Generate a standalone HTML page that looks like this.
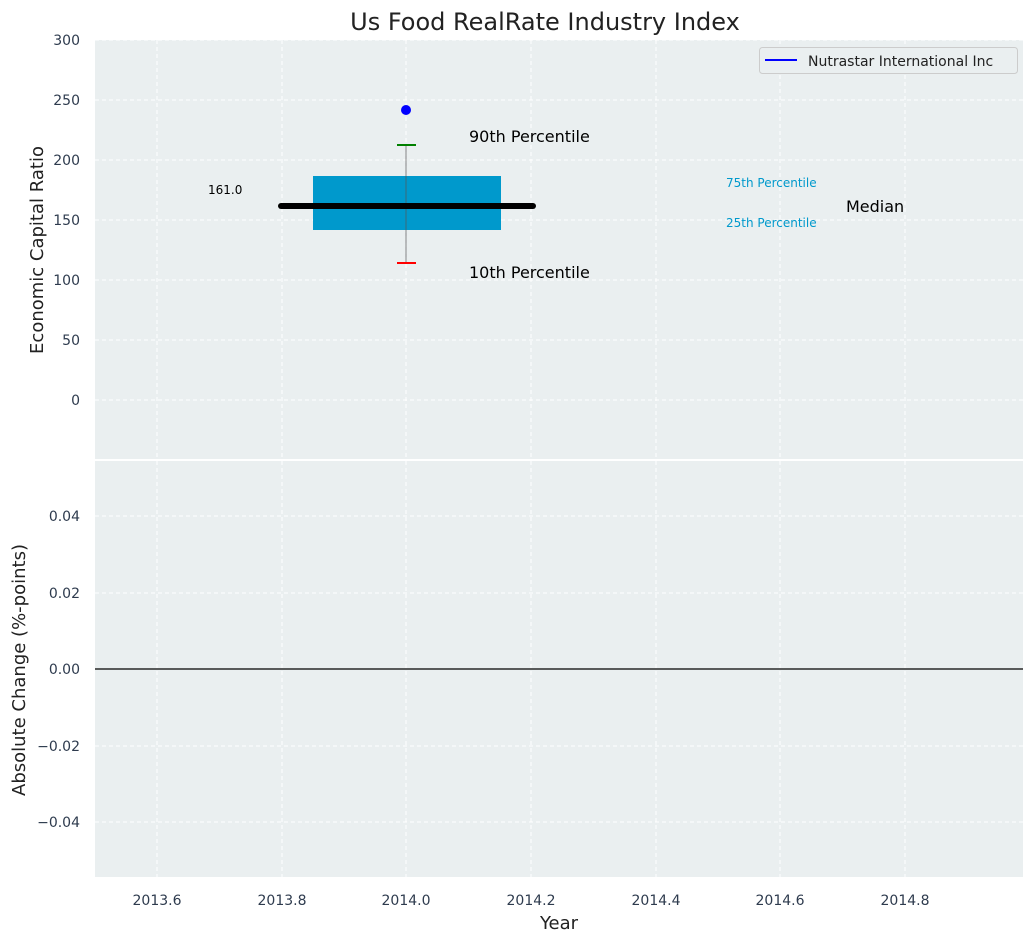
<!DOCTYPE html>
<html><head><meta charset="utf-8"><style>
html,body{margin:0;padding:0;background:#fff;}
svg{display:block;font-family:"DejaVu Sans","Liberation Sans",sans-serif;}
</style></head><body>
<svg width="1034" height="942" viewBox="0 0 1034 942" xmlns="http://www.w3.org/2000/svg">
<rect x="0" y="0" width="1034" height="942" fill="#fff"/>
<!-- top axes -->
<rect x="95" y="40" width="928" height="419" fill="#eaeff0"/>
<g stroke="#fff" stroke-width="1" stroke-dasharray="4,3">
<line x1="157" y1="40" x2="157" y2="459"/><line x1="282" y1="40" x2="282" y2="459"/><line x1="406" y1="40" x2="406" y2="459"/><line x1="531" y1="40" x2="531" y2="459"/><line x1="656" y1="40" x2="656" y2="459"/><line x1="780" y1="40" x2="780" y2="459"/><line x1="905" y1="40" x2="905" y2="459"/>
<line x1="95" y1="40" x2="1023" y2="40"/><line x1="95" y1="100" x2="1023" y2="100"/><line x1="95" y1="160" x2="1023" y2="160"/><line x1="95" y1="220" x2="1023" y2="220"/><line x1="95" y1="280" x2="1023" y2="280"/><line x1="95" y1="340" x2="1023" y2="340"/><line x1="95" y1="400" x2="1023" y2="400"/>
</g>
<g font-size="14" fill="#2e3b4e" text-anchor="end">
<text x="80" y="45">300</text><text x="80" y="105">250</text><text x="80" y="165">200</text><text x="80" y="225">150</text><text x="80" y="285">100</text><text x="80" y="345">50</text><text x="80" y="405">0</text>
</g>
<text transform="translate(43,250) rotate(-90)" font-size="18" fill="#222" text-anchor="middle">Economic Capital Ratio</text>
<text x="545" y="30" font-size="24" fill="#222" text-anchor="middle">Us Food RealRate Industry Index</text>
<rect x="313" y="176" width="188" height="54" fill="#0099cc"/>
<line x1="406" y1="145" x2="406" y2="263" stroke="#555" stroke-width="1" opacity="0.7"/>
<line x1="397" y1="145" x2="416" y2="145" stroke="green" stroke-width="2"/>
<line x1="397" y1="263" x2="416" y2="263" stroke="red" stroke-width="2"/>
<line x1="281" y1="206" x2="533" y2="206" stroke="#000" stroke-width="6" stroke-linecap="round"/>
<circle cx="406" cy="110" r="5" fill="blue"/>
<text x="208" y="194" font-size="12" fill="#000">161.0</text>
<text x="469" y="142" font-size="16" fill="#000">90th Percentile</text>
<text x="469" y="278" font-size="16" fill="#000">10th Percentile</text>
<text x="726" y="187" font-size="12" fill="#0099cc">75th Percentile</text>
<text x="726" y="227" font-size="12" fill="#0099cc">25th Percentile</text>
<text x="846" y="212" font-size="16" fill="#000">Median</text>
<rect x="759.5" y="47.5" width="258" height="26" rx="3" fill="#eaeff0" stroke="#ccc"/>
<line x1="765" y1="60" x2="797" y2="60" stroke="blue" stroke-width="2"/>
<text x="808" y="66" font-size="14" fill="#222">Nutrastar International Inc</text>
<!-- bottom axes -->
<rect x="95" y="461" width="928" height="416" fill="#eaeff0"/>
<g stroke="#fff" stroke-width="1" stroke-dasharray="4,3">
<line x1="157" y1="461" x2="157" y2="877"/><line x1="282" y1="461" x2="282" y2="877"/><line x1="406" y1="461" x2="406" y2="877"/><line x1="531" y1="461" x2="531" y2="877"/><line x1="656" y1="461" x2="656" y2="877"/><line x1="780" y1="461" x2="780" y2="877"/><line x1="905" y1="461" x2="905" y2="877"/>
<line x1="95" y1="516" x2="1023" y2="516"/><line x1="95" y1="593" x2="1023" y2="593"/><line x1="95" y1="746" x2="1023" y2="746"/><line x1="95" y1="822" x2="1023" y2="822"/>
</g>
<line x1="95" y1="669" x2="1023" y2="669" stroke="#000" stroke-width="1.2"/>
<g font-size="14" fill="#2e3b4e" text-anchor="end">
<text x="80" y="521">0.04</text><text x="80" y="598">0.02</text><text x="80" y="674">0.00</text><text x="80" y="751">−0.02</text><text x="80" y="827">−0.04</text>
</g>
<g font-size="14" fill="#2e3b4e" text-anchor="middle">
<text x="157" y="905">2013.6</text><text x="282" y="905">2013.8</text><text x="406" y="905">2014.0</text><text x="531" y="905">2014.2</text><text x="656" y="905">2014.4</text><text x="780" y="905">2014.6</text><text x="905" y="905">2014.8</text>
</g>
<text x="559" y="929" font-size="18" fill="#222" text-anchor="middle">Year</text>
<text transform="translate(25,670) rotate(-90)" font-size="18" fill="#222" text-anchor="middle">Absolute Change (%-points)</text>
</svg>
</body></html>
